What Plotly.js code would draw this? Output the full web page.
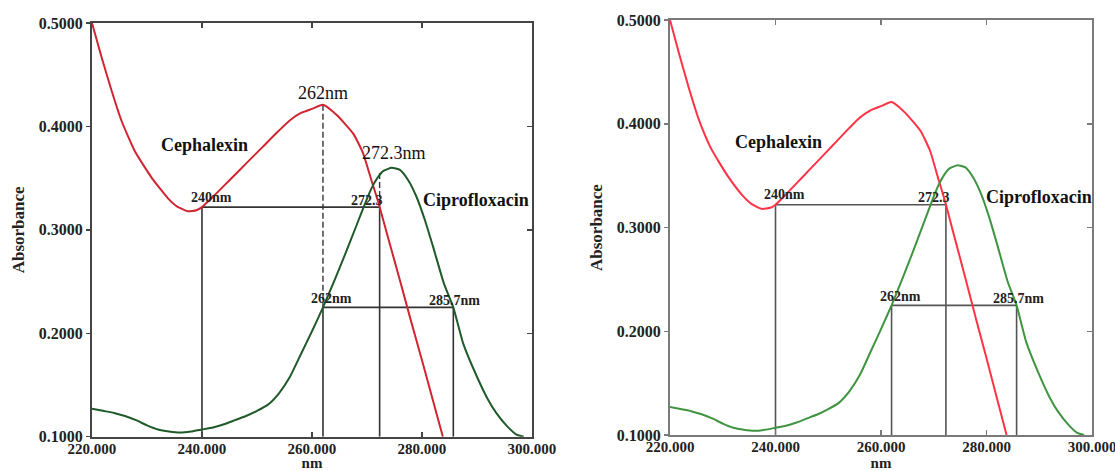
<!DOCTYPE html>
<html>
<head>
<meta charset="utf-8">
<script src="https://cdn.plot.ly/plotly-3.0.1.min.js"></script>
<style>html,body{margin:0;padding:0;background:#fff;}#chart{width:1115px;height:471px;}</style>
</head>
<body>
<div id="chart"></div>
<script>
// ---- data ----
const wavelengthCeph = [220, 221.8, 223.6, 225.4, 227.8, 230.9, 233.9, 235.5, 237.4, 239, 240, 242, 245, 248, 251, 254, 256, 258, 260, 262, 264.5, 267.5, 269.3, 270.8, 272.1, 273.6, 276, 278, 280, 282, 283.8];
const absorbanceCeph = [0.500, 0.466, 0.434, 0.405, 0.376, 0.350, 0.330, 0.3225, 0.318, 0.319, 0.322, 0.332, 0.348, 0.364, 0.380, 0.396, 0.406, 0.413, 0.417, 0.421, 0.411, 0.393, 0.374, 0.348, 0.326, 0.297, 0.251, 0.212, 0.174, 0.135, 0.100];

const wavelengthCipro = [220, 222, 224, 226, 228, 230, 232, 234, 236, 238, 240, 242, 244, 246, 248, 250, 252, 254, 256, 258, 260, 262, 264, 266, 268, 270, 271, 272, 273, 274.5, 276, 277.5, 279, 280.5, 282, 284, 285.7, 287.5, 290, 292, 293.5, 295.5, 297.2, 298.5];
const absorbanceCipro = [0.127, 0.125, 0.123, 0.120, 0.116, 0.111, 0.107, 0.105, 0.104, 0.105, 0.107, 0.109, 0.112, 0.116, 0.120, 0.125, 0.131, 0.142, 0.158, 0.180, 0.202, 0.225, 0.250, 0.276, 0.303, 0.330, 0.342, 0.351, 0.357, 0.360, 0.358, 0.348, 0.332, 0.310, 0.284, 0.248, 0.225, 0.190, 0.158, 0.136, 0.123, 0.110, 0.102, 0.100];

// marked wavelengths (nm) and absorbance levels
const cephMarkWl = [240, 272.3];      // equal-absorbance pair for Cephalexin
const cephMarkAbs = 0.322;
const ciproMarkWl = [262, 285.7];     // equal-absorbance pair for Ciprofloxacin
const ciproMarkAbs = 0.225;
const cephPeakWl = 262;
const cephPeakAbs = 0.421;
const crossAbs = 0.355;               // top of dashed guide at 272.3 nm

const xTicks = [220, 240, 260, 280, 300];
const yTicks = [0.1, 0.2, 0.3, 0.4, 0.5];
const xRange = [220, 300];
const yRange = [0.1, 0.5];

// ---- styling ----
const SERIF = '"Liberation Serif", "Times New Roman", Times, serif';

function guideLines(xa, ya, color, withDashed) {
  const t = [];
  const base = yRange[0];
  const solid = {color: color, width: 1.6};
  const mk = (xs, ys, line) => t.push({x: xs, y: ys, xaxis: xa, yaxis: ya, mode: 'lines', line: line, hoverinfo: 'skip', showlegend: false});
  mk([cephMarkWl[0], cephMarkWl[1]], [cephMarkAbs, cephMarkAbs], solid);
  mk([cephMarkWl[0], cephMarkWl[0]], [cephMarkAbs, base], solid);
  mk([cephMarkWl[1], cephMarkWl[1]], [cephMarkAbs, base], solid);
  mk([ciproMarkWl[0], ciproMarkWl[1]], [ciproMarkAbs, ciproMarkAbs], solid);
  mk([ciproMarkWl[0], ciproMarkWl[0]], [ciproMarkAbs, base], solid);
  mk([ciproMarkWl[1], ciproMarkWl[1]], [ciproMarkAbs, base], solid);
  if (withDashed) {
    const dashed = {color: color, width: 1.4, dash: '6px,3px'};
    mk([cephPeakWl, cephPeakWl], [cephPeakAbs, ciproMarkAbs], dashed);
    mk([cephMarkWl[1], cephMarkWl[1]], [crossAbs, cephMarkAbs], dashed);
  }
  return t;
}

function curves(xa, ya, red, green) {
  return [
    {x: wavelengthCeph, y: absorbanceCeph, xaxis: xa, yaxis: ya, mode: 'lines', name: 'Cephalexin',
     line: {color: red, width: 2, shape: 'spline', smoothing: 0.5}, showlegend: false},
    {x: wavelengthCipro, y: absorbanceCipro, xaxis: xa, yaxis: ya, mode: 'lines', name: 'Ciprofloxacin',
     line: {color: green, width: 2, shape: 'spline', smoothing: 0.5}, showlegend: false}
  ];
}

const data = [].concat(
  guideLines('x', 'y', '#333333', true),
  curves('x', 'y', '#cf2632', '#1f5a2a'),
  guideLines('x2', 'y2', '#555555', false),
  curves('x2', 'y2', '#ff3345', '#3f9440'),
  [{x: [], y: [], xaxis: 'x', yaxis: 'y3', mode: 'lines', showlegend: false, hoverinfo: 'skip'},
   {x: [], y: [], xaxis: 'x2', yaxis: 'y4', mode: 'lines', showlegend: false, hoverinfo: 'skip'}]
);

function xAxis(domain, anchor, lineColor) {
  return {
    domain: domain, anchor: anchor, range: xRange, tickvals: xTicks, tickformat: '.3f',
    ticks: 'inside', ticklen: 5, tickwidth: 1.5, tickcolor: lineColor,
    showline: true, linecolor: lineColor, linewidth: 2, mirror: 'ticks',
    showgrid: false, zeroline: false, fixedrange: true, ticklabeloverflow: 'allow',
    ticklabelstandoff: -3,
    tickfont: {family: SERIF, size: 15, color: '#222', weight: 'bold'},
    title: {text: 'nm', font: {family: SERIF, size: 15, color: '#222', weight: 'bold'}, standoff: 0}
  };
}
function yAxis(domain, anchor, lineColor) {
  return {
    domain: domain, anchor: anchor, range: yRange, tickvals: yTicks, tickformat: '.4f',
    ticks: 'outside', ticklen: 4, tickwidth: 1.5, tickcolor: lineColor,
    showline: true, linecolor: lineColor, linewidth: 2, mirror: true,
    showgrid: false, zeroline: false, fixedrange: true, ticklabeloverflow: 'allow',
    tickfont: {family: SERIF, size: 16, color: '#222', weight: 'bold'},
    title: {text: 'Absorbance', font: {family: SERIF, size: 17, color: '#222', weight: 'bold'}, standoff: 10}
  };
}
function yMirror(over, anchor, lineColor) {
  return {
    overlaying: over, side: 'right', anchor: anchor, range: yRange, tickvals: yTicks,
    ticks: 'inside', ticklen: 5, tickwidth: 1.5, tickcolor: lineColor,
    showticklabels: false, showline: false, showgrid: false, zeroline: false, fixedrange: true
  };
}

function labels(xr, yr, pxPerNm, full) {
  const big = {family: SERIF, size: 18, color: '#111', weight: 'bold'};
  const small = {family: SERIF, size: 14, color: '#222', weight: 'bold'};
  const reg = {family: SERIF, size: 18, color: '#111'};
  const a = (text, x, y, font, xs, ys) => ({text: text, x: x, y: y, xref: xr, yref: yr, showarrow: false,
    font: font, xanchor: 'center', yanchor: 'middle', xshift: xs || 0, yshift: ys || 0});
  const out = [
    a('Cephalexin', 240.5, 0.382, big),
    a('Ciprofloxacin', 289.9, 0.329, big),
    a('240nm', cephMarkWl[0], cephMarkAbs, small, 1.7 * pxPerNm, 10),
    a('272.3', cephMarkWl[1], cephMarkAbs, small, -2.3 * pxPerNm, 7),
    a('262nm', ciproMarkWl[0], ciproMarkAbs, small, 1.6 * pxPerNm, 9),
    a('285.7nm', ciproMarkWl[1], ciproMarkAbs, small, 0.3 * pxPerNm, 7)
  ];
  if (full) {
    out.push(a('262nm', cephPeakWl, cephPeakAbs, reg, 0, 12));
    out.push(a('272.3nm', 275, 0.374, reg));
  }
  return out;
}

const layout = {
  width: 1115, height: 471,
  margin: {l: 0, r: 0, t: 0, b: 0},
  paper_bgcolor: '#ffffff', plot_bgcolor: '#ffffff',
  showlegend: false,
  xaxis: xAxis([0.0825, 0.4771], 'y', '#444444'),
  yaxis: yAxis([0.0728, 0.9512], 'x', '#444444'),
  yaxis3: yMirror('y', 'x', '#444444'),
  xaxis2: xAxis([0.6009, 0.9794], 'y2', '#7a7a7a'),
  yaxis2: yAxis([0.0764, 0.9575], 'x2', '#7a7a7a'),
  yaxis4: yMirror('y2', 'x2', '#7a7a7a'),
  annotations: [].concat(labels('x', 'y', 5.5, true), labels('x2', 'y2', 5.28, false))
};

Plotly.newPlot('chart', data, layout, {staticPlot: true, displayModeBar: false});
</script>
</body>
</html>
